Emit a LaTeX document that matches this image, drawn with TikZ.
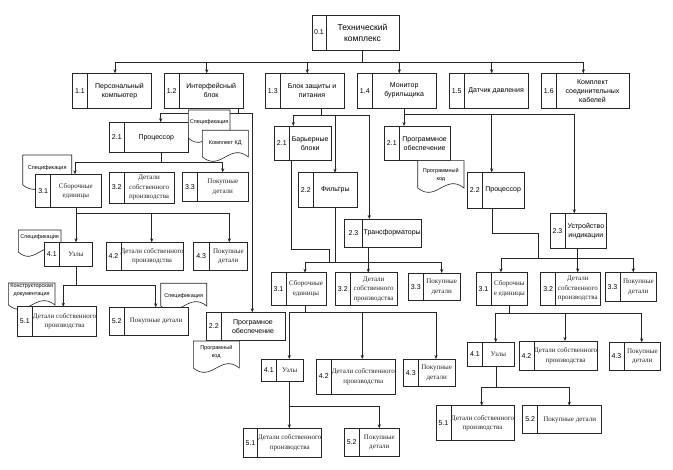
\documentclass[tikz,border=0pt]{standalone}
\usepackage{fontspec}
\setmainfont{Liberation Serif}
\setsansfont{Liberation Sans}
\usetikzlibrary{arrows.meta}
\pgfdeclarelayer{bg}
\pgfsetlayers{bg,main}
\tikzset{
  ln/.style={draw=black!85, line width=0.6pt},
  arr/.style={ln, -{Stealth[length=4pt,width=3.2pt]}},
  box/.style={draw=black!85, fill=white, line width=0.6pt, inner sep=0pt, outer sep=0pt},
  docst/.style={draw=black!85, fill=white, line width=0.6pt},
  ts/.style={font=\sffamily\fontsize{7}{9}\selectfont, align=center, inner sep=0pt},
  tr/.style={font=\rmfamily\fontsize{7}{9.5}\selectfont, align=center, inner sep=0pt, text=black!85},
  tt/.style={font=\sffamily\fontsize{8.5}{11}\selectfont, align=center, inner sep=0pt},
  numf/.style={font=\sffamily\fontsize{7}{8}\selectfont, inner sep=0pt},
  doct/.style={font=\sffamily\fontsize{5.5}{7.5}\selectfont, align=center, inner sep=0pt}
}
% box: name, x1, y1, xdiv, x2, y2, number, text, text style
\newcommand{\blkg}[9]{%
  \node[box, minimum width={#5pt-#2pt}, minimum height={#6pt-#3pt}] (#1) at ({(#2+#5)/2},{(#3+#6)/2}) {};
  \draw[ln] (#4,#3) -- (#4,#6);
  \node[numf] (#1n) at ({(#2+#4)/2},{(#3+#6)/2}) {#7};
  \node[#9] (#1t) at ({(#4+#5)/2},{(#3+#6)/2}) {#8};
}
\newcommand{\bs}[8]{\blkg{#1}{#2}{#3}{#4}{#5}{#6}{#7}{#8}{ts}}
\newcommand{\br}[8]{\blkg{#1}{#2}{#3}{#4}{#5}{#6}{#7}{#8}{tr}}
% document: name, x1, y1, x2, ybase, text, text y
\newcommand{\docu}[7]{%
  \pgfmathsetmacro\dw{#4-#2}%
  \path[docst] (#2,#3) -- (#4,#3) -- (#4,#5)
     .. controls ({#4-0.4*\dw},{#5-15}) and ({#2+0.4*\dw},{#5+15}) .. (#2,#5) -- cycle;
  \node[doct] (#1) at ({(#2+#4)/2},#7) {#6};
}
% connectors
\newcommand{\drp}[3]{\coordinate (tmp) at (#1,#2); \draw[arr] (tmp) -- (tmp |- #3.north);}
\newcommand{\stm}[3]{\coordinate (tmp) at (#1,#2); \draw[ln] (tmp |- #3.south) -- (tmp);}
\newcommand{\busl}[3]{\draw[ln] (#1,#3) -- (#2,#3);}

\begin{document}
\begin{tikzpicture}[x=1pt,y=-1pt]
\useasboundingbox (0,0) rectangle (673,470);
\begin{pgfonlayer}{bg}
\fill[white] (0,0) rectangle (673,470);
\end{pgfonlayer}

% ---- top and level 1
\blkg{t01}{312}{15}{326}{399}{50}{0.1}{Технический\\комплекс}{tt}
\bs{b11}{72.7}{73.3}{87.3}{151.7}{108.3}{1.1}{Персональный\\компьютер}
\bs{b12}{164.3}{73.3}{179}{243.3}{108.3}{1.2}{Интерфейсный\\блок}
\bs{b13}{265.7}{73.3}{280}{344}{108.3}{1.3}{Блок защиты и\\питания}
\bs{b14}{357.3}{73.3}{372.3}{436}{108.3}{1.4}{Монитор\\бурильщика}
\bs{b15}{449.3}{73.3}{464}{528.3}{108.3}{1.5}{Датчик давления}
\bs{b16}{541.7}{73.3}{556}{629}{108.3}{1.6}{Комплект\\соединительных\\кабелей}

% ---- subtree 1.2
\bs{b2a}{109.3}{122.3}{124.3}{188.3}{152.7}{2.1}{Процессор}
\docu{d1}{188.3}{110}{230}{138}{Спецификация}{121.7}
\docu{d2}{202.3}{130.3}{248.3}{157}{Комплект КД}{143.3}
\docu{d3}{22.7}{155}{71.7}{185}{Спецификация}{168}
\br{b3a}{35.7}{174.3}{50.7}{101}{207.7}{3.1}{Сборочные\\единицы}
\br{b3b}{109}{172}{124.3}{174}{203}{3.2}{Детали\\собственного\\производства}
\br{b3c}{182.7}{172.3}{197.3}{248.3}{201}{3.3}{Покупные\\детали}
\docu{d4}{18.3}{230}{61}{252}{Спецификация}{237}
\br{b4a}{44.3}{242.3}{59.3}{92.7}{266}{4.1}{Узлы}
\br{b4b}{106}{242.3}{121}{183.3}{270}{4.2}{Детали собственного\\производства}
\br{b4c}{193.3}{242.3}{209}{247.7}{270}{4.3}{Покупные\\детали}
\docu{d5}{8.3}{283}{55}{305}{Конструкторская\\документация}{290}
\br{b5a}{17.3}{306.7}{32.3}{96.7}{336}{5.1}{Детали собственного\\производства}
\docu{d6}{160.7}{283.3}{206.7}{306}{Спецификация}{296}
\br{b5b}{109.3}{307.3}{124}{188.3}{335}{5.2}{Покупные детали}
\bs{b2b}{206.7}{312.3}{221}{285}{340.7}{2.2}{Програмное\\обеспечение}
\docu{d7}{193.3}{341}{239.3}{368}{Програмный\\код}{352}

% ---- subtree 1.3
\bs{c21}{274.3}{126}{289.3}{331}{160.7}{2.1}{Барьерные\\блоки}
\bs{c22}{298.3}{172.7}{313.3}{357.3}{207.7}{2.2}{Фильтры}
\bs{c23}{344.3}{219}{362.7}{421.7}{247.3}{2.3}{Трансформаторы}
\br{c31}{271}{272.7}{286}{326}{305}{3.1}{Сборочные\\единицы}
\br{c32}{335.7}{272.7}{350}{397.3}{305.5}{3.2}{Детали\\собственного\\производства}
\br{c33}{408.3}{273}{423.3}{460}{300.7}{3.3}{Покупные\\детали}
\br{c41}{261.7}{359}{276}{303.3}{381.7}{4.1}{Узлы}
\br{c42}{316}{359}{331.7}{395}{394}{4.2}{Детали собственного\\производства}
\br{c43}{403.3}{359}{418.3}{455}{386.7}{4.3}{Покупные\\детали}
\br{c51}{243.3}{428.3}{257.7}{321.7}{457.3}{5.1}{Детали собственного\\производства}
\br{c52}{344}{428.3}{359.3}{399.3}{456.7}{5.2}{Покупные\\детали}

% ---- subtree 1.4
\bs{m21}{384.3}{126}{399.3}{450}{160.7}{2.1}{Программное\\обеспечение}
\docu{d8}{417.7}{160.7}{464}{188}{Программный\\код}{175}
\bs{m22}{467.3}{172.3}{482.3}{524}{208.3}{2.2}{Процессор}
\bs{m23}{550}{213.3}{565}{606.7}{248.3}{2.3}{Устройство\\индикации}
\br{m31}{476}{272.3}{491}{527.7}{305}{3.1}{Сборочны\\е единицы}
\br{m32}{540.7}{272.3}{555.7}{600}{305}{3.2}{Детали\\собственного\\производства}
\br{m33}{605}{272.3}{620}{656.7}{301}{3.3}{Покупные\\детали}
\br{m41}{467.3}{342.3}{482.7}{514}{366}{4.1}{Узлы}
\br{m42}{519}{341}{534}{597.3}{370.7}{4.2}{Детали собственного\\производства}
\br{m43}{609}{342.3}{624}{660.7}{370.7}{4.3}{Покупные\\детали}
\br{m51}{436}{405.7}{451}{514}{440.7}{5.1}{Детали собственного\\производства}
\br{m52}{522.7}{405.7}{537.7}{601.7}{433.3}{5.2}{Покупные детали}

% ---- connectors (behind)
\begin{pgfonlayer}{bg}
\stm{362.7}{62}{t01}
\busl{115}{583.3}{62}
\drp{115}{62}{b11}\drp{206.7}{62}{b12}\drp{307.3}{62}{b13}
\drp{399.3}{62}{b14}\drp{491.7}{62}{b15}\drp{583.3}{62}{b16}
% 1.2
\stm{238.3}{113.3}{b12}
\busl{160.7}{252.3}{113.3}
\drp{160.7}{113.3}{b2a}
\drp{252.3}{113.3}{b2b}
\stm{161.7}{162.7}{b2a}
\busl{75}{222.7}{162.7}
\drp{75}{162.7}{b3a}
\drp{222.7}{162.7}{b3c}
\stm{76}{213.3}{b3a}
\busl{76}{229.3}{213.3}
\drp{76}{213.3}{b4a}\drp{151.7}{213.3}{b4b}\drp{229.3}{213.3}{b4c}
\stm{76}{285}{b4a}
\busl{63.3}{155.7}{285}
\drp{63.3}{285}{b5a}\drp{155.7}{285}{b5b}
% 1.3
\stm{321}{115}{b13}
\busl{293.3}{369.3}{115}
\drp{293.3}{115}{c21}\drp{335}{115}{c22}\drp{369.3}{115}{c23}
\coordinate (p) at (291.7,249);
\draw[ln] (p |- c21.south) -- (p) -- (329,249) -- (329,262.7);
\stm{335}{262.7}{c22}
\stm{368.3}{262.7}{c23}
\busl{305}{441.7}{262.7}
\drp{305}{262.7}{c31}\drp{368.3}{262.7}{c32}\drp{441.7}{262.7}{c33}
\stm{305}{312.3}{c31}
\busl{289.3}{436}{312.3}
\drp{289.3}{312.3}{c41}\drp{362.3}{312.3}{c42}\drp{436}{312.3}{c43}
\stm{289.3}{406}{c41}
\busl{289.3}{379.3}{406}
\drp{289.3}{406}{c51}\drp{379.3}{406}{c52}
% 1.4
\stm{404}{114}{b14}
\busl{404}{574.3}{114}
\drp{404}{114}{m21}\drp{491.7}{114}{m22}\drp{574.3}{114}{m23}
\coordinate (q) at (492.3,233.3);
\draw[ln] (q |- m22.south) -- (q) -- (538.3,233.3) -- (538.3,258.3);
\stm{577.7}{258.3}{m23}
\busl{501}{633.3}{258.3}
\drp{501}{258.3}{m31}\drp{577.7}{258.3}{m32}\drp{633.3}{258.3}{m33}
\stm{509.3}{313.3}{m31}
\busl{495.7}{641.7}{313.3}
\drp{495.7}{313.3}{m41}\drp{565}{313.3}{m42}\drp{641.7}{313.3}{m43}
\stm{496}{387.3}{m41}
\busl{481.7}{569.3}{387.3}
\drp{481.7}{387.3}{m51}\drp{569.3}{387.3}{m52}
\end{pgfonlayer}
\end{tikzpicture}
\end{document}
